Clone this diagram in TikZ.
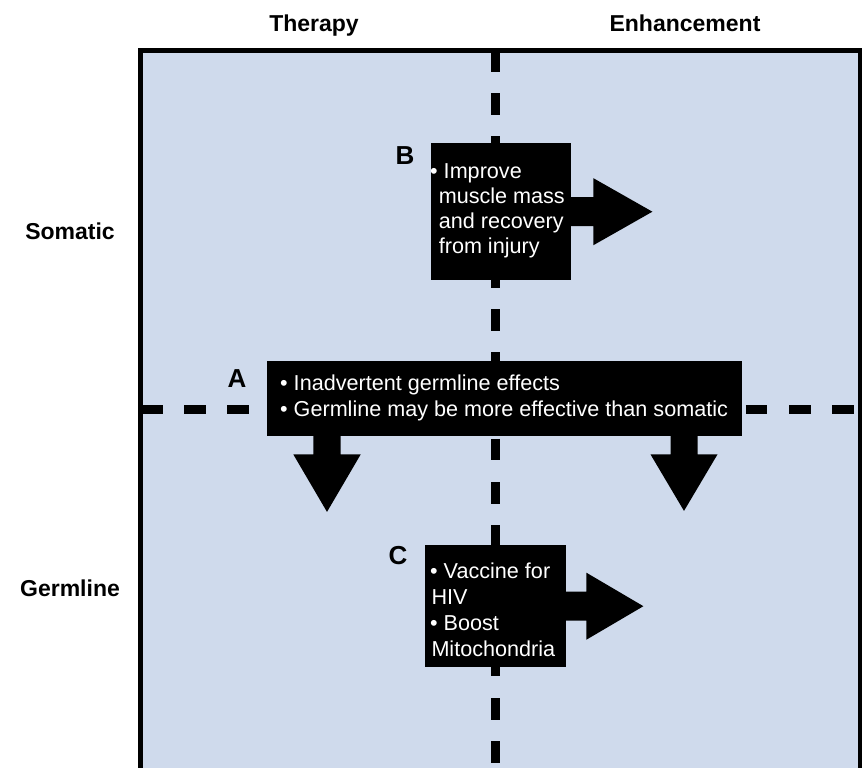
\documentclass[tikz,border=0pt]{standalone}
\usepackage{fontspec}
\setmainfont{Liberation Sans}
\usetikzlibrary{calc}
\definecolor{panelblue}{RGB}{207,218,236}
\begin{document}
\begin{tikzpicture}[x=1pt,y=-1pt,
  divider/.style={line width=9pt, dash pattern=on 21.6pt off 21.6pt},
  frame/.style={line width=5pt},
  blackbox/.style={fill=black, draw=none, inner sep=0pt, anchor=north west},
  boxtext/.style={text=white, anchor=base west, inner sep=0pt, font=\fontsize{21.6}{25}\selectfont},
  axislabel/.style={font=\bfseries\fontsize{23}{27}\selectfont, anchor=base, inner sep=0pt},
  letterlabel/.style={font=\bfseries\fontsize{26}{30}\selectfont, anchor=base, inner sep=0pt},
  blockarrow/.style={fill=black, draw=none}]
\useasboundingbox (0,0) rectangle (862,768);
\begin{scope}
  \clip (0,0) rectangle (862,768);
  \fill[panelblue] (140.5,50.5) rectangle (860.5,800);
  \draw[divider] (495.5,50) -- (495.5,800);
  \draw[divider] (141,409) -- (880,409);
  \draw[frame] (140.5,800) -- (140.5,50.5) -- (860.5,50.5) -- (860.5,800);
\end{scope}

% axis labels
\node[axislabel] (therapy) at (314,31.7) {Therapy};
\node[axislabel] (enhance) at (685,31.7) {Enhancement};
\node[axislabel] (somatic) at (70,239.3) {Somatic};
\node[axislabel] (germline) at (70,596) {Germline};

% boxes
\node[blackbox, minimum width=140pt, minimum height=137pt] (boxB) at (431,143) {};
\node[blackbox, minimum width=475pt, minimum height=75pt] (boxA) at (267,361) {};
\node[blackbox, minimum width=141pt, minimum height=122pt] (boxC) at (425,545) {};

% block arrows
\fill[blockarrow] ($(boxB.east)+(-1,-14.5)$) -- ++(23,0) -- ++(0,-19) -- ($(boxB.east)+(81,0)$)
  -- ($(boxB.east)+(22,33.5)$) -- ++(0,-19) -- ($(boxB.east)+(-1,14.5)$) -- cycle;
\fill[blockarrow] ($(boxC.east)+(-1,-14.5)$) -- ++(21,0) -- ++(0,-19) -- ($(boxC.east)+(77,0)$)
  -- ($(boxC.east)+(20,33.5)$) -- ++(0,-19) -- ($(boxC.east)+(-1,14.5)$) -- cycle;
\coordinate (aleft) at ($(boxA.south west)+(60,0)$);
\coordinate (aright) at ($(boxA.south west)+(417,0)$);
\fill[blockarrow] ($(aleft)+(-13.7,-1)$) -- ++(0,19) -- ++(-20,0) -- ($(aleft)+(0,75.5)$)
  -- ($(aleft)+(33.7,18)$) -- ++(-20,0) -- ($(aleft)+(13.7,-1)$) -- cycle;
\fill[blockarrow] ($(aright)+(-13.5,-1)$) -- ++(0,19) -- ++(-20,0) -- ($(aright)+(0,74.5)$)
  -- ($(aright)+(33.5,18)$) -- ++(-20,0) -- ($(aright)+(13.5,-1)$) -- cycle;

% letters
\node[letterlabel] (labA) at (237,387) {A};
\node[letterlabel] (labB) at (405,164) {B};
\node[letterlabel] (labC) at (398,564) {C};

% box texts
\node[boxtext] (b1) at (430,178) {• Improve};
\node[boxtext] (b2) at (438.6,203.3) {muscle mass};
\node[boxtext] (b3) at (438.6,228.6) {and recovery};
\node[boxtext] (b4) at (438.6,253.9) {from injury};

\node[boxtext] (a1) at (280,390) {• Inadvertent germline effects};
\node[boxtext] (a2) at (280,416) {• Germline may be more effective than somatic};

\node[boxtext] (c1) at (430,578) {• Vaccine for};
\node[boxtext] (c2) at (431.3,604) {HIV};
\node[boxtext] (c3) at (430,630) {• Boost};
\node[boxtext] (c4) at (431.3,656) {Mitochondria};
\end{tikzpicture}
\end{document}
